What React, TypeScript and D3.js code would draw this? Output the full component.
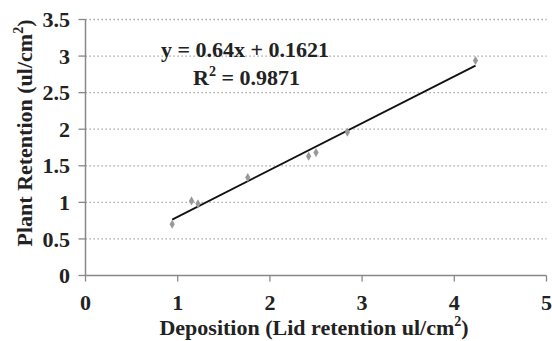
import React from "react";
import * as d3 from "d3";

const depositionX = [0.94, 1.15, 1.22, 1.76, 2.42, 2.5, 2.84, 4.23];
const retentionY = [0.7, 1.02, 0.98, 1.34, 1.63, 1.68, 1.96, 2.94];
const slope = 0.64;
const intercept = 0.1621;
const xTicks = [0, 1, 2, 3, 4, 5];
const yTicks = [0, 0.5, 1, 1.5, 2, 2.5, 3, 3.5];
const equationText = "y = 0.64x + 0.1621";
const r2Value = "0.9871";

export default function App() {
  const W = 552, H = 341;
  const x = d3.scaleLinear().domain([0, 5]).range([85.5, 546.5]);
  const y = d3.scaleLinear().domain([0, 3.5]).range([275.5, 19.5]);
  const font = "'Liberation Serif', 'Times New Roman', serif";
  const fs = 22;
  const xmin = d3.min(depositionX)!, xmax = d3.max(depositionX)!;
  const line = d3.line<number>().x((d) => x(d)).y((d) => y(slope * d + intercept));
  const diamond = d3.symbol().type(d3.symbolDiamond).size(24)();
  return (
    <svg width={W} height={H} style={{ position: "absolute", left: 0, top: 0, background: "#fff" }}>
      {yTicks.filter((t) => t > 0).map((t) => (
        <line key={t} x1={x(0)} x2={x(5)} y1={y(t)} y2={y(t)} stroke="#999" strokeWidth={1.3} strokeDasharray="1.3 2.7" />
      ))}
      <line x1={x(0)} x2={x(0)} y1={y(3.5)} y2={y(0)} stroke="#888" strokeWidth={1.5} />
      <line x1={x(0)} x2={x(5)} y1={y(0)} y2={y(0)} stroke="#888" strokeWidth={1.5} />
      {yTicks.map((t) => (
        <g key={t}>
          <line x1={x(0) - 7} x2={x(0)} y1={y(t)} y2={y(t)} stroke="#888" strokeWidth={1.3} />
          <text x={70} y={y(t)} dy="0.35em" textAnchor="end" fontFamily={font} fontWeight="bold" fontSize={fs} fill="#222">{t}</text>
        </g>
      ))}
      {xTicks.map((t) => (
        <g key={t}>
          <line x1={x(t)} x2={x(t)} y1={y(0)} y2={y(0) + 6} stroke="#888" strokeWidth={1.3} />
          <text x={x(t)} y={310} textAnchor="middle" fontFamily={font} fontWeight="bold" fontSize={fs} fill="#222">{t}</text>
        </g>
      ))}
      <path d={line([xmin, xmax]) || ""} stroke="#111" strokeWidth={1.8} fill="none" />
      {depositionX.map((d, i) => (
        <path key={i} d={diamond || ""} transform={`translate(${x(d)},${y(retentionY[i])})`} fill="#999" />
      ))}
      <text x={161} y={57} fontFamily={font} fontWeight="bold" fontSize={fs} fill="#222">{equationText}</text>
      <text x={193} y={85} fontFamily={font} fontWeight="bold" fontSize={fs} fill="#222">
        R<tspan dy={-9} fontSize={14}>2</tspan><tspan dy={9}> = {r2Value}</tspan>
      </text>
      <text x={314} y={335} textAnchor="middle" fontFamily={font} fontWeight="bold" fontSize={fs} fill="#222">
        Deposition (Lid retention ul/cm<tspan dy={-9} fontSize={14}>2</tspan><tspan dy={9}>)</tspan>
      </text>
      <text transform="translate(32,133) rotate(-90)" textAnchor="middle" fontFamily={font} fontWeight="bold" fontSize={fs} fill="#222">
        Plant Retention (ul/cm<tspan dy={-9} fontSize={14}>2</tspan><tspan dy={9}>)</tspan>
      </text>
    </svg>
  );
}
